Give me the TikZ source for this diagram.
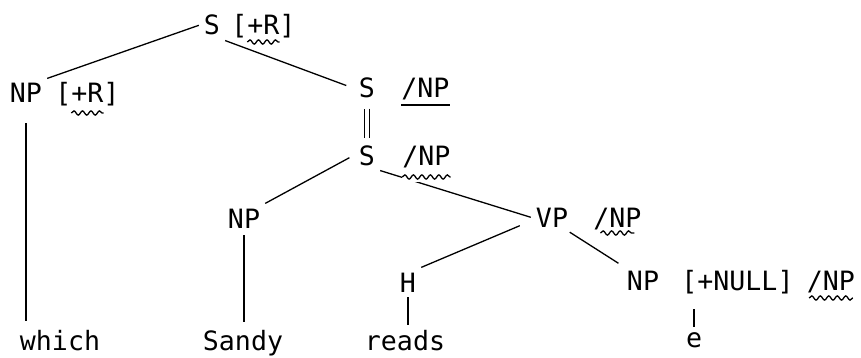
\documentclass[tikz,border=0pt]{standalone}
\usepackage{fontspec}
\newfontfamily\treefont{DejaVu Sans Mono}
\usetikzlibrary{positioning,calc,decorations.pathmorphing}

\tikzset{
	cat/.style={font=\treefont\fontsize{26.6}{30}\selectfont, inner sep=5pt},
	feat/.style={font=\treefont\fontsize{26.6}{30}\selectfont, inner sep=0pt},
	word/.style={font=\treefont\fontsize{26.6}{30}\selectfont, inner sep=5pt},
	branch/.style={line width=1.3pt},
	squig/.style={line width=1.3pt, decorate, decoration={snake, amplitude=2.1pt, segment length=8.5pt}},
}

% wavy underline below part of a feature node
\newcommand{\squiggle}[4]{%
	\draw[squig] ([yshift=-#4pt]$(#1.base west)!#2!(#1.base east)$) -- ([yshift=-#4pt]$(#1.base west)!#3!(#1.base east)$);}

\begin{document}
\begin{tikzpicture}[x=1pt,y=-1pt]
	\useasboundingbox (0,0) rectangle (861,358);
	
	\node[cat, anchor=base] (sR) at (212,35) {S};
	\node[feat, base right=6pt of sR] (sRf) {[+R]};
	\node[cat, anchor=base] (npR) at (26,103) {NP};
	\node[feat, base right=8pt of npR] (npRf) {[+R]};
	\node[cat, anchor=base] (s1) at (367,98) {S};
	\node[feat, base right=21pt of s1] (s1f) {/NP};
	\node[cat, anchor=base] (s2) at (367,165) {S};
	\node[feat, base right=22pt of s2] (s2f) {/NP};
	\node[cat, anchor=base] (np2) at (244,228) {NP};
	\node[cat, anchor=base] (vp) at (552,227) {VP};
	\node[feat, base right=20pt of vp] (vpf) {/NP};
	\node[cat, anchor=base] (h) at (408,292) {H};
	\node[cat, anchor=base] (npN) at (643,290) {NP};
	\node[feat, base right=17pt of npN] (npNf) {[+NULL]};
	\node[feat, base right=13pt of npNf] (npNg) {/NP};
	
	\node[word, anchor=base] (which) at (60,350) {which};
	\node[word, anchor=base] (sandy) at (243,350) {Sandy};
	\node[word, anchor=base] (reads) at (405,350) {reads};
	\node[word, anchor=base] (e) at (694,347) {e};
	
	\draw[branch] (sR.west) -- (npR.north east);
	\draw[branch, shorten >=8pt] (sR.south east) -- (s1.west);
	\draw[branch, double, double distance=3.5pt, line width=1.2pt, shorten <=5pt, shorten >=2pt] (s1.south) -- (s2.north);
	\draw[branch, shorten <=5pt] (s2.west) -- (np2.north east);
	\draw[branch] (s2.south east) -- (vp.west);
	\draw[branch, shorten <=12pt] (vp.190) -- (h.north east);
	\draw[branch, shorten >=4pt] (vp.-40) -- (npN.north west);
	
	\draw[branch, shorten <=15pt, shorten >=4pt] (npR.south) -- (npR.south |- which.north);
	\draw[branch, shorten <=2pt, shorten >=3pt] (np2.south) -- (np2.south |- sandy.north);
	\draw[branch] (h.south) -- (h.south |- reads.north);
	\draw[branch, shorten >=14pt] (e.north) -- (e.north |- npN.south);
	
	\draw[branch] ([yshift=-7pt]s1f.base west) -- ([yshift=-7pt]s1f.base east);
	\squiggle{sRf}{.25}{.75}{7}
	\squiggle{npRf}{.25}{.75}{10}
	\draw[white, line width=10pt] ([yshift=-12pt]s2f.base west) -- ([yshift=-12pt]s2f.base east);
	\squiggle{s2f}{0}{1}{12}
	\squiggle{vpf}{.15}{.85}{6}
	\squiggle{npNg}{.05}{.95}{8}
\end{tikzpicture}
\end{document}
